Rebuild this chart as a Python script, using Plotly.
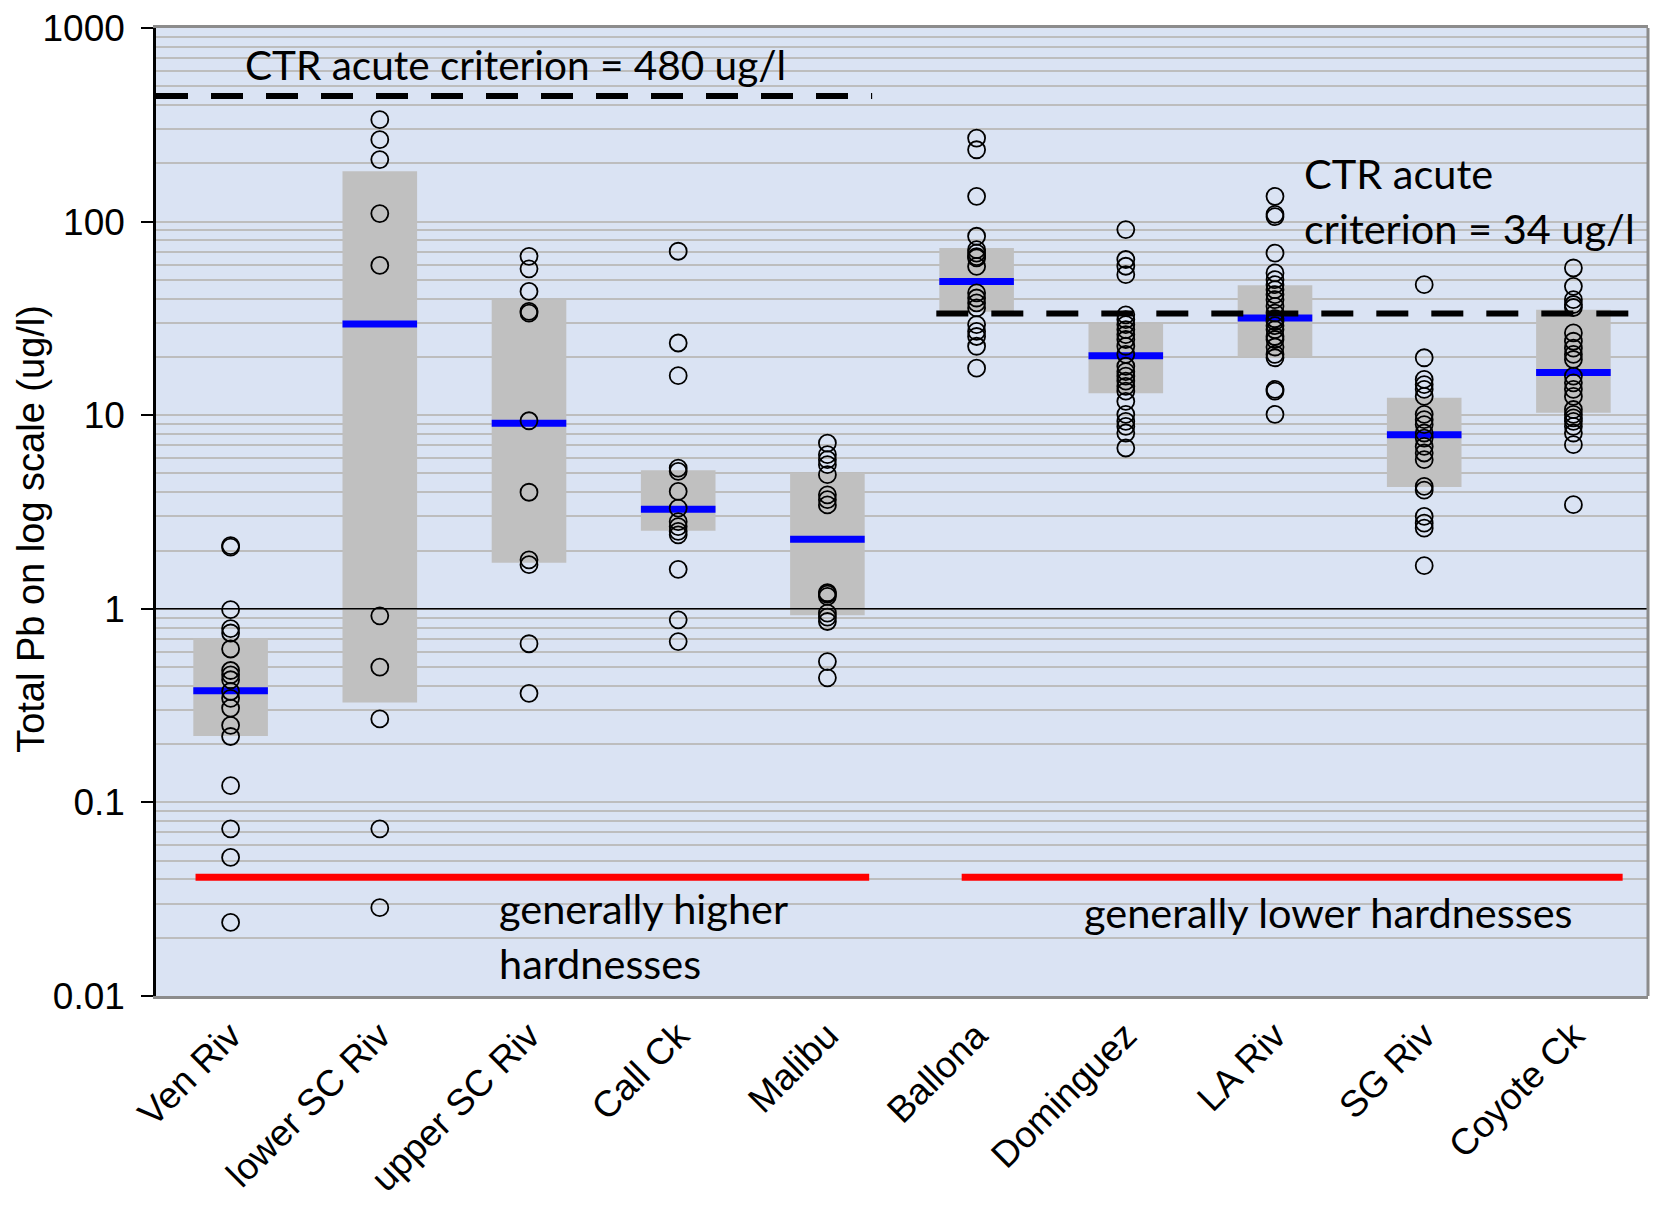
import plotly.graph_objects as go

# ---------------- data ----------------
categories = ["Ven Riv", "lower SC Riv", "upper SC Riv", "Call Ck", "Malibu",
              "Ballona", "Dominguez", "LA Riv", "SG Riv", "Coyote Ck"]

ven_riv = [2.12, 2.08, 0.99, 0.79, 0.75, 0.62, 0.48, 0.456, 0.43, 0.374, 0.345,
           0.307, 0.25, 0.219, 0.122, 0.073, 0.052, 0.024]
lower_sc_riv = [336, 265, 209, 110, 59.4, 0.92, 0.50, 0.27, 0.073, 0.0286]
upper_sc_riv = [66.2, 57, 43.6, 34.4, 33.7, 9.36, 4.0, 1.79, 1.69, 0.66, 0.366]
call_ck = [70.3, 23.6, 16.0, 5.33, 5.13, 4.04, 3.31, 2.82, 2.66, 2.51, 2.41,
           1.60, 0.877, 0.677]
malibu = [7.18, 6.25, 5.89, 5.55, 4.93, 3.88, 3.66, 3.44, 1.21, 1.19, 1.16,
          0.95, 0.906, 0.86, 0.534, 0.44]
ballona = [270, 235, 135, 84, 71.6, 68.8, 66, 64.9, 58.7, 42.8, 40.3, 38.0,
           35.8, 29.4, 27.1, 25.5, 22.7, 17.5]
dominguez = [91, 63.7, 58.8, 53.2, 33, 31.2, 29.4, 27.7, 26.1, 24.6, 22.7,
             20.6, 17.9, 16.8, 15.9, 15.0, 14.1, 13.3, 11.8, 10.1, 9.3, 8.75,
             8.09, 6.77]
la_riv = [135, 109, 106, 68.8, 54.3, 50.1, 47.2, 44.5, 42, 39.5, 36.5, 33.7,
          31.5, 30.5, 29, 27.7, 25.5, 24.6, 22.5, 20.6, 19.8, 13.6, 13.3, 10.1]
sg_riv = [47.2, 19.8, 15.3, 14.4, 13.6, 12.5, 10.1, 9.48, 8.94, 8.09, 7.62,
          6.9, 6.38, 5.89, 4.29, 4.1, 3.0, 2.77, 2.61, 1.67]
coyote_ck = [57.6, 46.3, 39.5, 37.3, 36, 26.6, 24.1, 22.2, 20.6, 19.4, 15.9,
             14.7, 13.6, 12.5, 10.7, 10.1, 9.68, 9.3, 8.75, 8.09, 7.04, 3.45]

samples = [ven_riv, lower_sc_riv, upper_sc_riv, call_ck, malibu,
           ballona, dominguez, la_riv, sg_riv, coyote_ck]

box_low = [0.22, 0.328, 1.73, 2.53, 0.925, 34.2, 13.0, 20.1, 4.26, 10.3]
box_high = [0.705, 182, 39.5, 5.19, 5.03, 73, 29.7, 46.9, 12.3, 35.1]
medians = [0.377, 29.6, 9.1, 3.27, 2.29, 49.1, 20.3, 31.8, 7.93, 16.6]

crit_high = 445      # drawn level of the "480 ug/l" criterion line
crit_low = 33.5      # drawn level of the "34 ug/l" criterion line
hardness_level = 0.041

y_tick_vals = [0.01, 0.1, 1, 10, 100, 1000]
y_tick_text = ["0.01", "0.1", "1", "10", "100", "1000"]

# ---------------- figure ----------------
fig = go.Figure()

n = len(categories)
idx = list(range(n))

# grey boxes
fig.add_trace(go.Bar(
    x=idx, y=[h - l for h, l in zip(box_high, box_low)], base=box_low,
    width=0.5, marker=dict(color="#c0c0c0", line=dict(width=0)),
    hoverinfo="skip", showlegend=False))

# blue median lines
mx, my = [], []
for i, m in enumerate(medians):
    mx += [i - 0.25, i + 0.25, None]
    my += [m, m, None]
fig.add_trace(go.Scatter(x=mx, y=my, mode="lines",
                         line=dict(color="#0000ff", width=7),
                         hoverinfo="skip", showlegend=False))

# black horizontal line at 1
fig.add_trace(go.Scatter(x=[-0.5, n - 0.5], y=[1, 1], mode="lines",
                         line=dict(color="black", width=1.6),
                         hoverinfo="skip", showlegend=False))

# criterion dashed lines
fig.add_trace(go.Scatter(x=[-0.5, 4.3], y=[crit_high, crit_high], mode="lines",
                         line=dict(color="black", width=6, dash="32px,23px"),
                         hoverinfo="skip", showlegend=False))
fig.add_trace(go.Scatter(x=[4.73, 9.38], y=[crit_low, crit_low], mode="lines",
                         line=dict(color="black", width=6, dash="32px,23px"),
                         hoverinfo="skip", showlegend=False))

# red hardness lines
fig.add_trace(go.Scatter(x=[-0.235, 4.28], y=[hardness_level, hardness_level],
                         mode="lines", line=dict(color="#ff0000", width=7),
                         hoverinfo="skip", showlegend=False))
fig.add_trace(go.Scatter(x=[4.90, 9.33], y=[hardness_level, hardness_level],
                         mode="lines", line=dict(color="#ff0000", width=7),
                         hoverinfo="skip", showlegend=False))

# sample points
px, py = [], []
for i, vals in enumerate(samples):
    px += [i] * len(vals)
    py += vals
fig.add_trace(go.Scatter(x=px, y=py, mode="markers",
                         marker=dict(symbol="circle-open", size=17, color="black",
                                     line=dict(width=1.8, color="black")),
                         showlegend=False))

# minor gridline values
minor_vals = [m * 10 ** e for e in range(-2, 3) for m in range(2, 10)]

grid_col = "#bdbdbd"
fig.update_layout(
    width=1658, height=1206,
    paper_bgcolor="white", plot_bgcolor="#dae3f3",
    margin=dict(l=148, r=18, t=20, b=218),
    barmode="overlay",
    showlegend=False,
    xaxis=dict(range=[-0.5, n - 0.5], tickvals=idx, ticktext=categories,
               tickangle=-45, ticks="", showgrid=False, zeroline=False,
               showline=True, linecolor="#8c8c8c", linewidth=3, mirror=True,
               automargin=False, ticklabeloverflow="allow",
               tickfont=dict(family="Liberation Sans, Arial", size=37, color="black")),
    yaxis=dict(type="log", range=[-2, 3], tickvals=y_tick_vals, ticktext=y_tick_text,
               showgrid=True, gridcolor=grid_col, gridwidth=2,
               ticks="outside", ticklen=12, tickwidth=2, tickcolor="black",
               showline=True, linecolor="black", linewidth=2.5,
               ticklabelstandoff=9, ticklabeloverflow="allow", automargin=False,
               tickfont=dict(family="Liberation Sans, Arial", size=37, color="black"),
               minor=dict(tickvals=minor_vals, showgrid=True, gridcolor=grid_col,
                          gridwidth=1.5, ticks="")),
)

# right frame edge
fig.add_shape(type="line", xref="paper", yref="paper", x0=1, x1=1, y0=0, y1=1,
              line=dict(color="#8c8c8c", width=3))

ann_font = dict(family="Lato", size=41.5, color="black")
fig.add_annotation(text="CTR acute criterion = 480 ug/l", xref="x", yref="paper",
                   x=0.083, y=0.962, xanchor="left", yanchor="middle",
                   showarrow=False, font=dict(family="Lato", size=40.5, color="black"))
fig.add_annotation(text="CTR acute", xref="x", yref="paper",
                   x=7.18, y=0.8506, xanchor="left", yanchor="middle",
                   showarrow=False, font=ann_font)
fig.add_annotation(text="criterion = 34 ug/l", xref="x", yref="paper",
                   x=7.18, y=0.7938, xanchor="left", yanchor="middle",
                   showarrow=False, font=ann_font)
fig.add_annotation(text="generally higher", xref="x", yref="paper",
                   x=1.786, y=0.0905, xanchor="left", yanchor="middle",
                   showarrow=False, font=ann_font)
fig.add_annotation(text="hardnesses", xref="x", yref="paper",
                   x=1.786, y=0.0341, xanchor="left", yanchor="middle",
                   showarrow=False, font=ann_font)
fig.add_annotation(text="generally lower hardnesses", xref="x", yref="paper",
                   x=5.706, y=0.0868, xanchor="left", yanchor="middle",
                   showarrow=False, font=ann_font)

# y-axis title
fig.add_annotation(text="Total Pb on log scale (ug/l)", xref="paper", yref="paper",
                   x=-0.0835, y=0.483, xanchor="center", yanchor="middle",
                   textangle=-90, showarrow=False,
                   font=dict(family="Liberation Sans, Arial", size=38, color="black"))

fig.write_html("out.html")
